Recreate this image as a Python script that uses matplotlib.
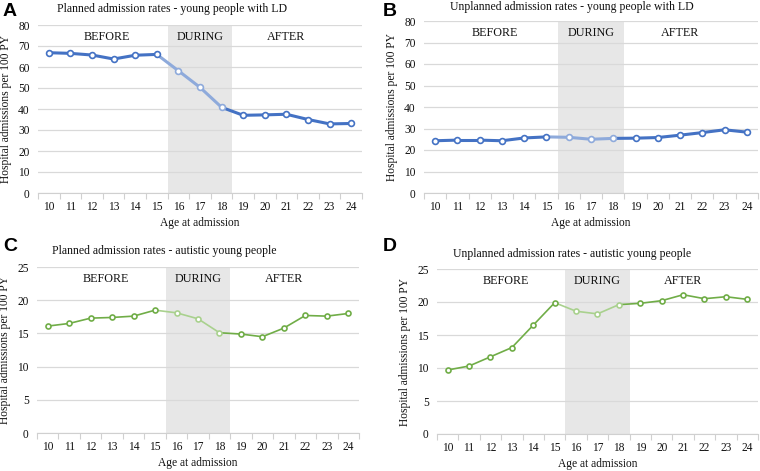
import matplotlib
matplotlib.use("Agg")
import matplotlib.pyplot as plt
import numpy as np

ages = [10, 11, 12, 13, 14, 15, 16, 17, 18, 19, 20, 21, 22, 23, 24]
during_ages = [16, 17, 18]

planned_ld = [66.8, 66.5, 65.7, 63.8, 65.6, 66.0, 58.2, 50.3, 40.8, 37.0, 37.2, 37.5, 35.0, 32.9, 33.1]
unplanned_ld = [24.3, 24.6, 24.6, 24.3, 25.6, 26.1, 25.9, 25.0, 25.4, 25.5, 25.8, 26.9, 28.1, 29.4, 28.3]
planned_aut = [16.1, 16.5, 17.3, 17.4, 17.6, 18.5, 18.1, 17.2, 15.1, 14.9, 14.5, 15.8, 17.7, 17.6, 18.0]
unplanned_aut = [9.7, 10.3, 11.7, 13.1, 16.5, 19.9, 18.6, 18.2, 19.6, 19.8, 20.2, 21.1, 20.5, 20.8, 20.4]

titles = ["Planned admission rates - young people with LD",
          "Unplanned admission rates - young people with LD",
          "Planned admission rates - autistic young people",
          "Unplanned admission rates - autistic young people"]
letters = ["A", "B", "C", "D"]
ylims = [80, 80, 25, 25]
ysteps = [10, 10, 5, 5]
period_labels = ["BEFORE", "DURING", "AFTER"]

BLUE, LBLUE = "#4472c4", "#8eaadb"
GREEN, LGREEN = "#70ad47", "#a9d18e"

serif = ["Liberation Serif", "DejaVu Serif"]
plt.rcParams["font.family"] = serif

fig = plt.figure(figsize=(7.6, 4.71), dpi=100)
W, H = 760, 471

# pixel boxes: left, right, top, bottom
boxes = [(38, 362, 25, 193), (424, 758, 21, 193), (37, 359, 267, 433), (437, 758, 269, 434)]
series = [planned_ld, unplanned_ld, planned_aut, unplanned_aut]
colors = [(BLUE, LBLUE, 2.2, 4.2), (BLUE, LBLUE, 2.2, 4.2), (GREEN, LGREEN, 1.2, 3.6), (GREEN, LGREEN, 1.2, 3.6)]
title_pos = [(172, 9), (572, 7), (164, 251), (572, 254)]
letter_pos = [(3, 3), (383, 3), (3, 238), (383, 238)]

x = np.arange(len(ages))
dur_idx = [ages.index(a) for a in during_ages]
TXT = "#111111"

for i in range(4):
    l, r, t, b = boxes[i]
    ax = fig.add_axes([l / W, 1 - b / H, (r - l) / W, (b - t) / H])
    dark, light, lw, ms = colors[i]
    y = series[i]
    ax.axvspan(dur_idx[0] - 0.5, dur_idx[-1] + 0.5, color="#e7e7e7", lw=0, zorder=0)
    for k in range(len(x) - 1):
        c = light if (k + 1) in dur_idx else dark
        ax.plot(x[k:k + 2], y[k:k + 2], color=c, lw=lw, solid_capstyle="round", zorder=2)
    for k in range(len(x)):
        c = light if k in dur_idx else dark
        ax.plot(x[k], y[k], "o", ms=ms, mfc="white", mec=c, mew=1.2, zorder=3)
    ax.set_xlim(-0.5, len(x) - 0.5)
    ax.set_ylim(0, ylims[i])
    ax.set_yticks(np.arange(0, ylims[i] + 0.1, ysteps[i]))
    ax.set_xticks(x)
    ax.set_xticklabels([str(a) for a in ages])
    ax.set_xticks(np.arange(-0.5, len(x), 1.0), minor=True)
    ax.tick_params(axis="x", which="major", length=0, pad=5.5, labelsize=8.3, colors=TXT)
    ax.tick_params(axis="x", which="minor", length=4, color="#d0d0d0", width=0.8)
    ax.tick_params(axis="y", length=0, pad=6, labelsize=8.3, colors=TXT)
    ax.grid(axis="y", color="#d9d9d9", lw=0.9, zorder=1)
    ax.set_axisbelow(True)
    for s in ["top", "right", "left"]:
        ax.spines[s].set_visible(False)
    ax.spines["bottom"].set_color("#d0d0d0")
    ax.spines["bottom"].set_zorder(1)
    ax.set_xlabel("Age at admission", fontsize=8.3, color=TXT, labelpad=3)
    ax.set_ylabel("Hospital admissions per 100 PY", fontsize=8.3, color=TXT, labelpad=4)
    pos = [2.7, 7.0, 11.0]
    for p, lab in zip(pos, period_labels):
        ax.text(p, 0.93, lab, transform=ax.get_xaxis_transform(), ha="center", va="center",
                fontsize=8.7, color=TXT)
    tx, ty = title_pos[i]
    fig.text(tx / W, 1 - ty / H, titles[i], ha="center", va="center", fontsize=8.5, color=TXT)
    lx, ly = letter_pos[i]
    fig.text(lx / W, 1 - ly / H, letters[i], ha="left", va="top", fontsize=14, fontweight="bold",
             family=["Liberation Sans", "DejaVu Sans"])

fig.savefig("out.png", dpi=100, facecolor="white")
